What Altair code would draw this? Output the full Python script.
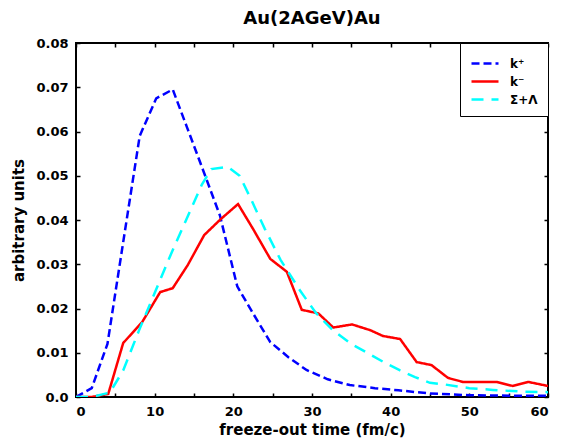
import altair as alt
import pandas as pd

# k+ (blue dashed)
kplus_x = [0, 2, 4, 6, 8.1, 10.2, 12.3, 14.1, 16, 18.3, 20.5, 22.3, 24.7, 27, 29.3, 32, 34.8, 38, 41, 45, 50, 55, 60]
kplus_y = [0, 0.002, 0.012, 0.035, 0.059, 0.0675, 0.0695, 0.061, 0.052, 0.041, 0.025, 0.0195, 0.0124, 0.009, 0.0061, 0.004, 0.0027, 0.002, 0.0015, 0.0008, 0.0004, 0.0003, 0.0003]

# k- (red solid)
kminus_x = [0, 2, 4.1, 6.0, 8.4, 10.7, 12.3, 14.2, 16.3, 18.4, 20.6, 22.5, 24.7, 26.8, 28.7, 30.8, 32.7, 35.1, 37.4, 39, 41.2, 43.3, 45.2, 47.3, 49.2, 51.4, 53.5, 55.5, 57.5, 60]
kminus_y = [0, 0, 0.0007, 0.0122, 0.0169, 0.0237, 0.0246, 0.0298, 0.0366, 0.0402, 0.0436, 0.038, 0.0312, 0.0283, 0.0197, 0.0189, 0.0157, 0.0164, 0.0151, 0.0138, 0.0131, 0.0079, 0.0072, 0.0043, 0.0034, 0.0034, 0.0034, 0.0025, 0.0034, 0.0025]

# Sigma + Lambda (cyan dashed)
sl_x = [0, 2, 4.3, 6, 8, 10, 12, 14, 16, 17.2, 19.3, 20.8, 22.3, 24, 26, 28.5, 30.5, 32.7, 35, 37, 39, 41.2, 43.1, 45, 47, 50, 53, 57, 60]
sl_y = [0, 0, 0.001, 0.006, 0.015, 0.0235, 0.032, 0.040, 0.048, 0.0515, 0.052, 0.050, 0.0445, 0.038, 0.031, 0.024, 0.019, 0.015, 0.012, 0.010, 0.008, 0.006, 0.0045, 0.0032, 0.0028, 0.002, 0.0016, 0.0012, 0.0011]

series_names = ["k\u207a", "k\u207b", "\u03a3+\u039b"]
series_colors = ["#0000ff", "#ff0000", "#00ffff"]
series_dash = [[8, 4], [1, 0], [12, 8]]

x_ticks = [0, 5, 10, 15, 20, 25, 30, 35, 40, 45, 50, 55, 60]
y_ticks = [0, 0.01, 0.02, 0.03, 0.04, 0.05, 0.06, 0.07, 0.08]

rows = []
for name, xs, ys in zip(series_names, [kplus_x, kminus_x, sl_x], [kplus_y, kminus_y, sl_y]):
    for i, (a, b) in enumerate(zip(xs, ys)):
        rows.append({"series": name, "t": a, "v": b, "order": i})
df = pd.DataFrame(rows)

W, H = 472, 354
FONT = "DejaVu Sans"

chart = alt.Chart(df).mark_line(strokeWidth=2.5, clip=True).encode(
    x=alt.X("t:Q",
            scale=alt.Scale(domain=[0, 60], nice=False, zero=False),
            axis=alt.Axis(values=x_ticks, title="freeze-out time (fm/c)",
                          labelExpr="datum.value % 10 == 0 ? datum.label : ''",
                          ticks=False, tickSize=0, domain=False,
                          grid=True, gridColor="black", gridWidth=1.5, gridOpacity=1,
                          gridDash=[4, H - 8, 4, 1000],
                          labelPadding=8, titlePadding=4)),
    y=alt.Y("v:Q",
            scale=alt.Scale(domain=[0, 0.08], nice=False),
            axis=alt.Axis(values=y_ticks, title="arbitrary units",
                          labelExpr="datum.value == 0 ? '0.0' : format(datum.value, '.2f')",
                          ticks=False, tickSize=0, domain=False,
                          grid=True, gridColor="black", gridWidth=1.5, gridOpacity=1,
                          gridDash=[4, W - 8, 4, 1000],
                          labelPadding=8, titlePadding=9)),
    color=alt.Color("series:N",
                    scale=alt.Scale(domain=series_names, range=series_colors),
                    legend=alt.Legend(title=None, orient="top-right", offset=0)),
    strokeDash=alt.StrokeDash("series:N",
                              scale=alt.Scale(domain=series_names, range=series_dash),
                              legend=alt.Legend(title=None, orient="top-right", offset=0)),
    order="order:Q",
).properties(
    width=W, height=H,
    title=alt.TitleParams("Au(2AGeV)Au", font=FONT, fontSize=18, fontWeight="bold",
                          anchor="middle", offset=9),
    autosize=alt.AutoSizeParams(type="none"),
    padding={"left": 68, "top": 35, "right": 13, "bottom": 44},
).configure_view(
    stroke="black", strokeWidth=2
).configure_axis(
    labelFont=FONT, labelFontSize=13, labelFontWeight="bold", labelColor="black",
    titleFont=FONT, titleFontSize=15, titleFontWeight="bold", titleColor="black",
).configure_legend(
    labelFont=FONT, labelFontSize=12, labelFontWeight="bold", labelColor="black",
    symbolType="M-1,0H2", symbolSize=324, symbolStrokeWidth=2.5,
    strokeColor="black", fillColor="white", padding=10, rowPadding=1,
    labelOffset=19,
)

chart.save("out.html", embed_options={"renderer": "svg", "actions": False})
